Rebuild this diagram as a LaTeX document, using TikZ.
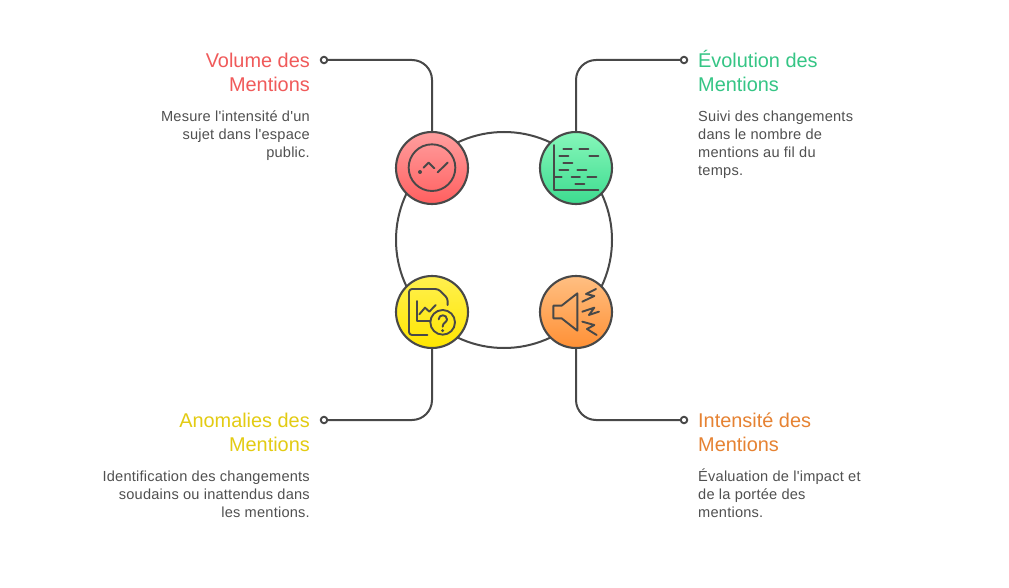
\documentclass[tikz,border=0pt]{standalone}
\usepackage{fontspec}
\setmainfont{Liberation Sans}
\newfontfamily\descfont[LetterSpace=1.5]{Liberation Sans}
\definecolor{ink}{HTML}{484848}
\definecolor{bodytxt}{HTML}{505050}
\definecolor{redt}{HTML}{F05A5A}
\definecolor{greent}{HTML}{35C585}
\definecolor{yellowt}{HTML}{E3CB12}
\definecolor{oranget}{HTML}{E68232}
\definecolor{r1}{HTML}{FF9F9F}\definecolor{r2}{HTML}{FF5F5F}
\definecolor{g1}{HTML}{86F7BA}\definecolor{g2}{HTML}{3DDB8F}
\definecolor{y1}{HTML}{FFF04F}\definecolor{y2}{HTML}{FFE600}
\definecolor{o1}{HTML}{FFBF82}\definecolor{o2}{HTML}{FF9035}
\newcommand{\headstrut}{\rule{0pt}{19pt}}
\newcommand{\descstrut}{\rule{0pt}{15pt}}
\tikzset{
  x=1pt,y=-1pt,
  disc/.style={circle,minimum size=72pt,inner sep=0pt,draw=ink,line width=2.1pt},
  link/.style={draw=ink,line width=2pt,rounded corners=20pt},
  endmark/.style={circle,minimum size=6.5pt,inner sep=0pt,draw=ink,line width=1.9pt,fill=white},
  icon/.style={draw=ink,line width=1.9pt,line cap=round,line join=round},
  headr/.style={font=\fontsize{19.9}{24}\selectfont,inner sep=0pt,align=right,anchor=north east},
  headl/.style={font=\fontsize{19.9}{24}\selectfont,inner sep=0pt,align=left,anchor=north west},
  descr/.style={font=\descfont\fontsize{14.6}{18}\selectfont,inner sep=0pt,align=right,anchor=north east,text=bodytxt},
  descl/.style={font=\descfont\fontsize{14.6}{18}\selectfont,inner sep=0pt,align=left,anchor=north west,text=bodytxt},
}
\begin{document}
\begin{tikzpicture}
\useasboundingbox[fill=white] (0,0) rectangle (1009,588);
\coordinate (hub) at (504,240);
\draw[ink,line width=2pt] (hub) circle[radius=108];
\coordinate (c1) at (432,168);
\coordinate (c2) at (576,168);
\coordinate (c3) at (432,312);
\coordinate (c4) at (576,312);
\node[endmark] (m1) at (324,60) {};
\node[endmark] (m2) at (684,60) {};
\node[endmark] (m3) at (324,420) {};
\node[endmark] (m4) at (684,420) {};
\node[disc,top color=r1,bottom color=r2] (d1) at (c1) {};
\node[disc,top color=g1,bottom color=g2] (d2) at (c2) {};
\node[disc,top color=y1,bottom color=y2] (d3) at (c3) {};
\node[disc,top color=o1,bottom color=o2] (d4) at (c4) {};
\draw[link] (m1) -| (d1.north);
\draw[link] (m2) -| (d2.north);
\draw[link] (m3) -| (d3.south);
\draw[link] (m4) -| (d4.south);
% red and green icons
\begin{scope}[shift={(385,120)},x=0.3333pt,y=-0.3333pt]
\draw[icon] (141,143) circle[radius=70];
\fill[ink] (105,156) circle[radius=6];
\draw[icon] (116,143) -- (131,128) -- (148,145);
\draw[icon] (158,157) -- (188,128);
\draw[icon] (507,75) -- (507,210) -- (640,210);
\foreach \a/\b/\yy in {535/560/88,583/610/88,523/550/108,613/640/108,535/562/130,523/550/151,577/604/151,507/530/172,560/585/172,607/634/172,571/598/193}
  \draw[icon] (\a,\yy) -- (\b,\yy);
\end{scope}
% yellow and orange icons
\begin{scope}[shift={(385,265)},x=0.3333pt,y=-0.3333pt]
\draw[icon,rounded corners=3pt] (127,210) -- (72,210) -- (72,72) -- (160,72) -- (188,100) -- (188,120);
\draw[icon] (96,108) -- (96,168) -- (135,168);
\draw[icon] (103,148) -- (120,128) -- (133,140) -- (152,120);
\draw[icon] (173,172) circle[radius=37];
\draw[icon] (161,163) .. controls (161,147) and (186,147) .. (186,163) .. controls (186,173) and (173,172) .. (173,185);
\fill[ink] (173,197) circle[radius=5];
\draw[icon] (505,122) -- (530,122) -- (577,85) -- (577,197) -- (530,160) -- (505,160) -- cycle;
\draw[icon] (633,72) -- (603,87) -- (628,93) -- (592,110);
\draw[icon] (592,140) -- (628,128) -- (612,150) -- (642,140);
\draw[icon] (592,170) -- (628,180) -- (606,192) -- (635,210);
\end{scope}
\node[headr,text=redt] (h1) at (310,48) {\headstrut Volume des\\Mentions};
\node[descr] (t1) at (310,106) {\descstrut Mesure l'intensité d'un\\sujet dans l'espace\\public.};
\node[headl,text=greent] (h2) at (698,48) {\headstrut Évolution des\\Mentions};
\node[descl] (t2) at (698,106) {\descstrut Suivi des changements\\dans le nombre de\\mentions au fil du\\temps.};
\node[headr,text=yellowt] (h3) at (310,408) {\headstrut Anomalies des\\Mentions};
\node[descr] (t3) at (310,466) {\descstrut Identification des changements\\soudains ou inattendus dans\\les mentions.};
\node[headl,text=oranget] (h4) at (698,408) {\headstrut Intensité des\\Mentions};
\node[descl] (t4) at (698,466) {\descstrut Évaluation de l'impact et\\de la portée des\\mentions.};
\end{tikzpicture}
\end{document}
